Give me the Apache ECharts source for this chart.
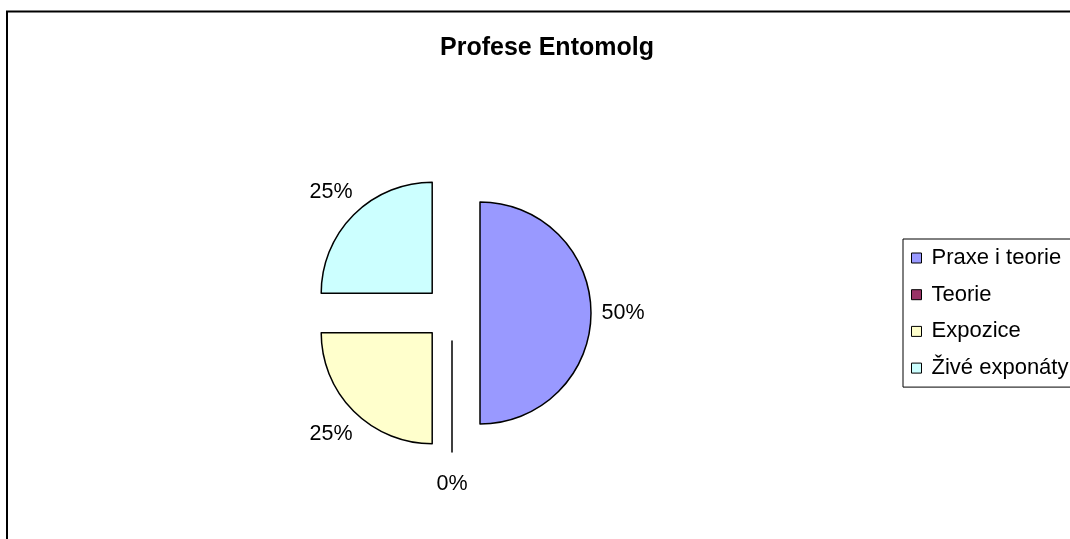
<!DOCTYPE html>
<html>
<head>
<meta charset="utf-8">
<script src="https://cdn.jsdelivr.net/npm/echarts@6/dist/echarts.min.js"></script>
<style>
html,body{margin:0;padding:0;background:#fff;overflow:hidden;}
#c{width:1070px;height:539px;}
</style>
</head>
<body>
<div id="c"></div>
<script>
const titleText = 'Profese Entomolg';
const categories = ['Praxe i teorie', 'Teorie', 'Expozice', 'Živé exponáty'];
const values = [2, 0, 1, 1];
const colors = ['#9999FF', '#993366', '#FFFFCC', '#CCFFFF'];

const chart = echarts.init(document.getElementById('c'), null, {renderer: 'canvas'});
const FONT = '"Liberation Sans", Arial, sans-serif';

const pieData = categories.map((n, i) => ({
  name: n, value: values[i], selected: true,
  itemStyle: {color: colors[i]}
}));
const labelData = categories.map((n, i) => ({
  name: n, value: values[i], selected: true
}));

chart.setOption({
  animation: false,
  backgroundColor: '#fff',
  title: {
    text: titleText,
    left: 547, top: 36, textAlign: 'center', padding: 0,
    textStyle: {fontFamily: FONT, fontWeight: 'bold', fontSize: 25, color: '#000', lineHeight: 25}
  },
  legend: {
    orient: 'vertical',
    left: 903, top: 239,
    padding: [8, 12, 8, 8],
    itemGap: 14.7,
    itemWidth: 10, itemHeight: 10,
    icon: 'rect',
    borderColor: '#000', borderWidth: 1,
    data: categories,
    itemStyle: {borderColor: '#000', borderWidth: 1},
    textStyle: {fontFamily: FONT, fontSize: 22, color: '#000', lineHeight: 22, padding: [0, 0, 0, 5]},
    selectedMode: false
  },
  graphic: [{
    type: 'rect', silent: true,
    shape: {x: 7, y: 11.5, width: 1200, height: 700},
    style: {fill: 'none', stroke: '#000', lineWidth: 2}
  }],
  series: [{
    type: 'pie',
    center: [452, 313],
    radius: 111,
    startAngle: 90,
    clockwise: true,
    selectedMode: 'multiple',
    selectedOffset: 28,
    avoidLabelOverlap: false,
    label: {show: false},
    labelLine: {show: false},
    emphasis: {disabled: true},
    select: {disabled: false, itemStyle: {borderColor: '#000', borderWidth: 1.5}},
    itemStyle: {borderColor: '#000', borderWidth: 1.5},
    data: pieData
  }, {
    type: 'pie',
    center: [452, 313],
    radius: [130, 150],
    startAngle: 90,
    clockwise: true,
    selectedMode: 'multiple',
    selectedOffset: 28,
    silent: true,
    avoidLabelOverlap: false,
    itemStyle: {color: 'rgba(0,0,0,0)', borderWidth: 0},
    select: {itemStyle: {color: 'rgba(0,0,0,0)', borderWidth: 0}},
    emphasis: {disabled: true},
    labelLine: {show: false},
    label: {
      show: true, position: 'inside',
      formatter: p => Math.round(p.percent) + '%',
      fontFamily: FONT, fontSize: 21.5, color: '#000'
    },
    data: labelData
  }]
});
</script>
</body>
</html>
